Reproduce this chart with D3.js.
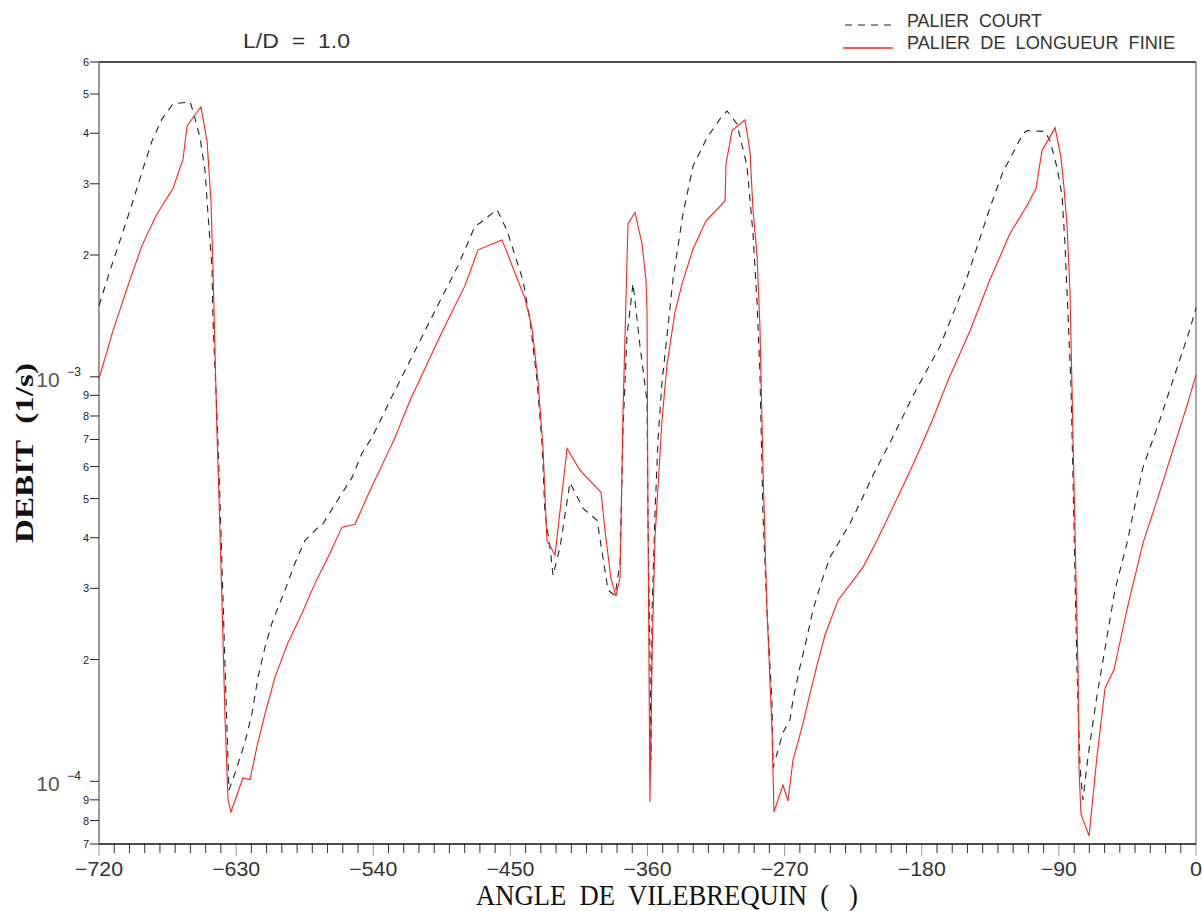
<!DOCTYPE html>
<html>
<head>
<meta charset="utf-8">
<script src="https://cdn.jsdelivr.net/npm/d3@7"></script>
<style>
  body { margin: 0; background: #fff; }
  svg { display: block; }
  text { font-family: "Liberation Sans", Arial, sans-serif; fill: #222; white-space: pre; }
</style>
</head>
<body>
<svg id="chart" width="1203" height="911"></svg>
<script>
// debit vs crank angle, L/D = 1.0 (values in units of 1e-4 l/s)

// PALIER COURT (dashed)
var courtAngle = [-720,-712.8,-706.2,-697.7,-691.1,-685.2,-678.6,-671.4,-660.3,-658.3,
  -653.7,-650.4,-648.5,-645.8,-645.2,-642.6,-640.6,-638.6,-636.6,-634.7,
  -630.7,-624.2,-619.6,-615.6,-611.0,-606.5,-602.5,-597.9,-591.4,-584.8,
  -576.9,-573.6,-569.7,-560.5,-553.9,-547.4,-540.8,-534.3,-529.0,-512.6,
  -496.2,-484.4,-473.2,-469.9,-458.8,-452.2,-441.7,-437.1,-432.5,-429.2,
  -427.3,-424.0,-422.0,-417.4,-410.9,-402.3,-393.1,-385.9,-381.3,-378.0,
  -376.1,-373.5,-369.5,-364.9,-360.3,-359.7,-358.4,-357.7,-357.0,-355.1,
  -353.1,-350.5,-347.2,-343.3,-336.7,-330.1,-320.9,-312.4,-307.8,-301.3,
  -294.7,-290.8,-288.1,-286.2,-284.2,-281.6,-278.3,-277.6,-271.1,-266.5,
  -264.5,-259.9,-255.3,-251.4,-245.5,-240.2,-233.7,-227.1,-220.5,-212.0,
  -202.8,-194.3,-185.7,-168.0,-151.6,-135.2,-126.7,-120.1,-113.5,-110.9,
  -99.1,-95.8,-91.2,-87.9,-86.0,-84.0,-82.0,-80.7,-79.4,-78.1,
  -76.1,-74.2,-70.9,-65.0,-59.7,-53.2,-45.3,-34.8,-23.6,-12.5,
  -4.0,0];
var courtDebit = [15.0,18.3,21.7,27.2,32.7,38.3,43.4,47.3,47.8,45.4,
  39.0,32.3,25.3,18.6,13.8,8.12,4.95,2.80,1.59,0.952,
  1.048,1.25,1.47,1.81,2.15,2.46,2.69,2.97,3.46,3.94,
  4.22,4.29,4.54,5.15,5.64,6.47,7.08,7.94,8.74,11.6,
  15.4,18.8,23.6,24.0,25.9,23.0,17.3,13.8,9.79,6.84,
  4.60,3.79,3.23,3.79,5.48,4.73,4.42,2.97,2.88,3.48,
  7.37,12.6,17.0,11.9,8.69,4.54,2.04,1.13,2.66,4.57,
  7.00,9.68,12.6,17.4,25.3,33.2,39.0,43.4,45.4,42.2,
  33.2,22.7,15.3,10.2,4.54,2.66,1.56,1.08,1.32,1.42,
  1.59,1.92,2.27,2.65,3.14,3.58,3.94,4.34,4.87,5.71,
  6.65,7.71,8.99,11.9,17.0,26.2,32.1,35.8,39.9,40.6,
  40.4,38.3,32.9,28.0,21.3,14.3,9.46,5.51,3.21,1.87,
  1.08,0.899,1.15,1.63,2.13,2.97,3.88,5.97,7.85,10.5,
  13.1,14.8];

// PALIER DE LONGUEUR FINIE (red)
var finieAngle = [-720,-710.8,-701.0,-691.8,-682.6,-676.7,-671.4,-666.8,-664.9,-662.2,
  -653.1,-649.1,-646.5,-645.2,-643.9,-642.6,-640.6,-638.6,-637.3,-635.3,
  -633.4,-625.5,-620.9,-616.3,-611.0,-604.5,-596.0,-586.8,-578.2,-569.7,
  -560.5,-552.0,-542.1,-534.3,-525.7,-515.9,-506.0,-496.2,-486.3,-479.8,
  -471.2,-455.5,-448.3,-440.4,-435.8,-431.9,-428.6,-426.0,-420.7,-412.8,
  -404.3,-390.5,-387.9,-384.0,-380.7,-378.0,-376.1,-372.8,-368.2,-363.6,
  -361.0,-360.3,-359.7,-358.4,-357.0,-355.1,-350.5,-347.2,-342.0,-337.3,
  -330.1,-321.6,-309.1,-308.5,-304.5,-296.0,-292.7,-290.8,-288.1,-286.2,
  -284.2,-281.6,-278.3,-277.0,-271.1,-267.8,-264.5,-258.6,-253.3,-248.7,
  -243.5,-235.0,-218.6,-209.4,-198.9,-189.0,-183.1,-172.6,-162.8,-148.3,
  -135.2,-122.1,-110.9,-105.0,-101.1,-92.5,-88.6,-86.7,-84.7,-82.7,
  -81.4,-80.1,-78.8,-77.4,-76.8,-75.5,-70.2,-65.0,-59.7,-53.8,
  -44.6,-34.8,-25.6,-15.7,-5.9,0];
var finieDebit = [9.90,13.0,16.8,21.1,25.0,27.2,29.2,32.9,34.4,41.7,
  46.5,38.3,27.2,18.6,11.8,7.37,4.17,2.23,1.44,0.899,
  0.840,1.02,1.01,1.22,1.47,1.81,2.20,2.60,3.09,3.58,
  4.25,4.32,5.24,6.04,7.08,8.74,10.5,12.6,15.0,16.8,
  20.6,21.8,18.6,15.6,13.2,9.79,6.69,3.94,3.62,6.65,
  5.87,5.18,4.17,3.18,2.87,3.19,8.12,23.9,25.5,21.3,
  17.4,14.4,4.54,0.889,2.04,3.99,7.80,10.7,14.4,17.0,
  20.7,24.3,27.2,33.6,40.6,43.2,36.0,26.0,19.9,13.3,
  5.97,2.66,1.36,0.840,0.979,0.894,1.13,1.36,1.65,1.94,
  2.30,2.80,3.38,3.94,4.76,5.71,6.39,7.89,9.79,13.0,
  17.4,22.6,26.5,29.2,36.2,41.3,34.8,29.5,23.8,16.3,
  9.46,5.51,3.21,1.87,1.08,0.830,0.733,1.15,1.70,1.89,
  2.73,3.88,4.95,6.50,8.50,10.1];

var unit = 1e-4;
var xTickValues = [-720,-630,-540,-450,-360,-270,-180,-90,0];
var xTickLabels = ["\u2212720","\u2212630","\u2212540","\u2212450","\u2212360","\u2212270","\u2212180","\u221290","0"];
var yTickMantissa = [7,8,9,1,2,3,4,5,6,7,8,9,1,2,3,4,5,6];
var yTickExponent = [-5,-5,-5,-4,-4,-4,-4,-4,-4,-4,-4,-4,-3,-3,-3,-3,-3,-3];

drawChart();

function drawChart() {
  var svg = d3.select("#chart");
  var pLeft = 99, pRight = 1196, pTop = 62, pBottom = 844;

  var x = d3.scaleLinear().domain([-720, 0]).range([pLeft, pRight]);
  var y = d3.scaleLog().domain([7e-5, 6e-3]).range([pBottom, pTop]);

  // frame
  svg.append("line").attr("x1", pLeft).attr("x2", pRight).attr("y1", pTop).attr("y2", pTop)
    .attr("stroke", "#111").attr("stroke-width", 1.3);
  svg.append("line").attr("x1", pRight).attr("x2", pRight).attr("y1", pTop).attr("y2", pBottom)
    .attr("stroke", "#777").attr("stroke-width", 1.3);

  // x axis: minor ticks every 10 deg, major every 90
  var xMinor = d3.range(-720, 1, 10);
  svg.append("g").selectAll("line").data(xMinor).enter().append("line")
    .attr("x1", function(d) { return x(d); })
    .attr("x2", function(d) { return x(d); })
    .attr("y1", pBottom)
    .attr("y2", function(d) { return d % 90 == 0 ? pBottom + 12 : pBottom + 9; })
    .attr("stroke", function(d) { return d % 90 == 0 ? "#999" : "#333"; })
    .attr("stroke-width", 1);
  svg.append("line").attr("x1", pLeft).attr("x2", pRight).attr("y1", pBottom).attr("y2", pBottom)
    .attr("stroke", "#111").attr("stroke-width", 1.5);
  svg.append("g").selectAll("text").data(xTickValues).enter().append("text")
    .attr("x", function(d) { return x(d); })
    .attr("y", 876)
    .attr("text-anchor", "middle")
    .attr("textLength", function(d, i) { return xTickLabels[i].length * 12; })
    .attr("lengthAdjust", "spacingAndGlyphs")
    .style("font-size", "20px").style("fill", "#333")
    .text(function(d, i) { return xTickLabels[i]; });

  // y axis
  svg.append("line").attr("x1", pLeft).attr("x2", pLeft).attr("y1", pTop).attr("y2", pBottom)
    .attr("stroke", "#777").attr("stroke-width", 1.5);
  var yTicks = yTickMantissa.map(function(m, i) { return m * Math.pow(10, yTickExponent[i]); });
  var gy = svg.append("g");
  gy.selectAll("line").data(yTicks).enter().append("line")
    .attr("x1", pLeft - 9).attr("x2", pLeft)
    .attr("y1", function(d) { return y(d); })
    .attr("y2", function(d) { return y(d); })
    .attr("stroke", "#222").attr("stroke-width", 1);
  yTickMantissa.forEach(function(m, i) {
    var yy = y(yTicks[i]);
    if (m == 1) {
      gy.append("text").attr("x", 48).attr("y", yy + 10).attr("text-anchor", "middle")
        .style("font-size", "21px").style("fill", "#555").text("10");
      gy.append("text").attr("x", 74).attr("y", yy - 1).attr("text-anchor", "middle")
        .style("font-size", "12px").text("\u2212" + (-yTickExponent[i]));
    } else {
      gy.append("text").attr("x", 89).attr("y", yy + 4).attr("text-anchor", "end")
        .style("font-size", "11px").text(m);
    }
  });

  // curves
  var line = d3.line()
    .x(function(d) { return x(d[0]); })
    .y(function(d) { return y(d[1] * unit); });

  var court = courtAngle.map(function(a, i) { return [a, courtDebit[i]]; });
  var finie = finieAngle.map(function(a, i) { return [a, finieDebit[i]]; });

  svg.append("path").datum(court)
    .attr("d", line).attr("fill", "none")
    .attr("stroke", "#222").attr("stroke-width", 1.1)
    .attr("stroke-dasharray", "7,6");
  svg.append("path").datum(finie)
    .attr("d", line).attr("fill", "none")
    .attr("stroke", "#ff2020").attr("stroke-width", 1.1);

  // title and legend
  svg.append("text").attr("x", 243).attr("y", 48)
    .attr("textLength", 107).attr("lengthAdjust", "spacingAndGlyphs")
    .style("font-size", "20px").style("fill", "#333").text("L/D  =  1.0");

  svg.append("line").attr("x1", 845).attr("x2", 893).attr("y1", 25).attr("y2", 25)
    .attr("stroke", "#222").attr("stroke-width", 1.1).attr("stroke-dasharray", "7,6");
  svg.append("text").attr("x", 907).attr("y", 27)
    .attr("textLength", 135).attr("lengthAdjust", "spacingAndGlyphs")
    .style("font-size", "19px").style("fill", "#333").text("PALIER  COURT");
  svg.append("line").attr("x1", 843).attr("x2", 893).attr("y1", 48).attr("y2", 48)
    .attr("stroke", "#ff2020").attr("stroke-width", 1.3);
  svg.append("text").attr("x", 907).attr("y", 49)
    .attr("textLength", 268).attr("lengthAdjust", "spacingAndGlyphs")
    .style("font-size", "19px").style("fill", "#333").text("PALIER  DE  LONGUEUR  FINIE");

  // axis titles
  svg.append("text").attr("x", 476).attr("y", 905)
    .attr("textLength", 382).attr("lengthAdjust", "spacingAndGlyphs")
    .style("font-family", "'Liberation Serif', 'Times New Roman', serif")
    .style("font-size", "29px").style("fill", "#111")
    .text("ANGLE  DE  VILEBREQUIN  (   )");
  svg.append("text")
    .attr("transform", "translate(33,543) rotate(-90)")
    .attr("textLength", 180).attr("lengthAdjust", "spacingAndGlyphs")
    .style("font-family", "'Liberation Serif', 'Times New Roman', serif")
    .style("font-size", "26px").style("font-weight", "bold").style("fill", "#111")
    .text("DEBIT  (1/s)");
}
</script>
</body>
</html>
